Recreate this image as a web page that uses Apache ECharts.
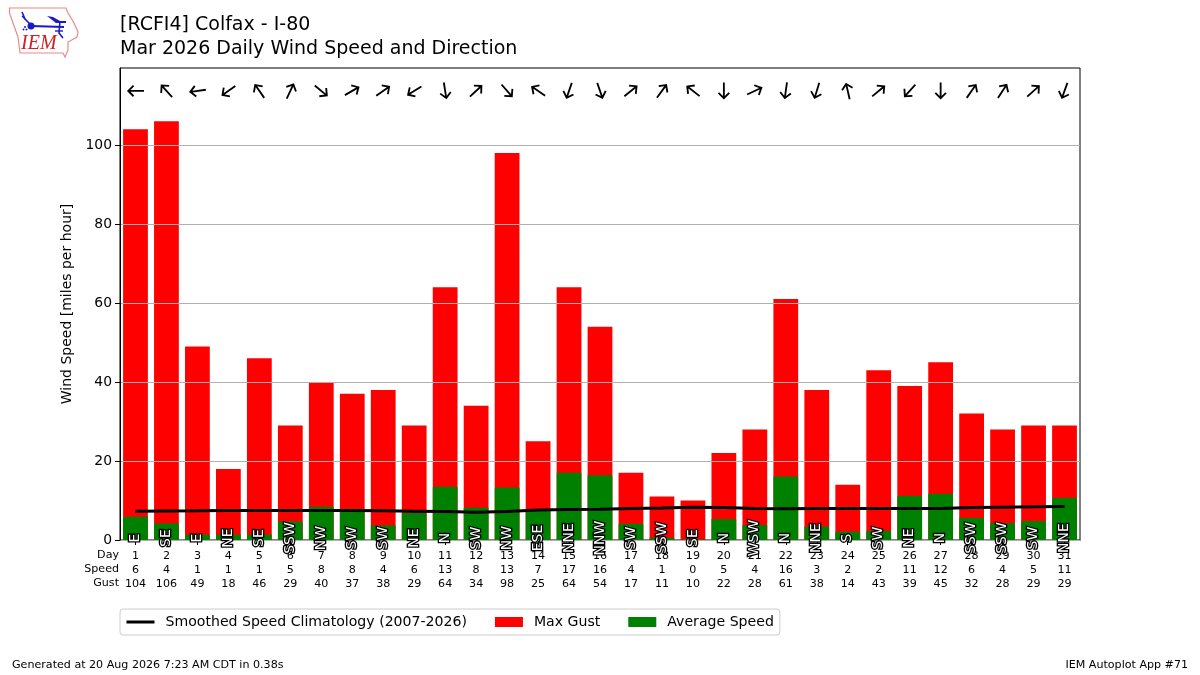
<!DOCTYPE html>
<html>
<head>
<meta charset="utf-8">
<style>html,body{margin:0;padding:0;background:#fff}#chart{width:1200px;height:675px}</style>
<script src="https://cdn.jsdelivr.net/npm/echarts@6/dist/echarts.min.js"></script>
</head>
<body>
<div id="chart"></div>
<script>
const days = [1,2,3,4,5,6,7,8,9,10,11,12,13,14,15,16,17,18,19,20,21,22,23,24,25,26,27,28,29,30,31];
const speedLabels = [6,4,1,1,1,5,8,8,4,6,13,8,13,7,17,16,4,1,0,5,4,16,3,2,2,11,12,6,4,5,11];
const gustValues = [104,106,49,18,46,29,40,37,38,29,64,34,98,25,64,54,17,11,10,22,28,61,38,14,43,39,45,32,28,29,29];
const avgSpeed = [5.9,4.2,1.35,1.35,1.35,4.7,8.4,7.9,3.7,6.8,13.5,8.2,13.3,7.4,17,16.4,4.1,0.6,0.2,5.3,3.8,16.1,3.4,2.1,2.3,11.2,11.7,5.6,4.3,4.8,10.7];
const climatology = [7.3,7.35,7.4,7.5,7.5,7.5,7.5,7.5,7.4,7.3,7.2,7.0,7.2,7.6,7.7,7.8,8.0,8.1,8.3,8.2,8.0,7.9,8.0,8.0,8.0,8.0,8.0,8.2,8.3,8.4,8.5];
const dirLabels = ['E','SE','E','NE','SE','SSW','NW','SW','SW','NE','N','SW','NW','ESE','NNE','NNW','SW','SSW','SE','N','WSW','N','NNE','S','SW','NE','N','SSW','SSW','SW','NNE'];
const arrowHeading = [270,318,262,235,325,25,130,60,55,238,171,47,139,304,199,161,51,36,308,180,65,188,197,347,50,222,180,35,33,48,200];
const yTicks = [0,20,40,60,80,100];
const arrowY = 113.7, dirLabelY = 0.5;
const FONT = '"DejaVu Sans"';
const arrowPath = 'path://M6 0L11.6 5.6L10.4 6.8L6.85 3.3L6.85 16L5.15 16L5.15 3.3L1.6 6.8L0.4 5.6Z';

const chart = echarts.init(document.getElementById('chart'), null, {renderer:'canvas'});
chart.setOption({
  animation:false,
  backgroundColor:'#fff',
  textStyle:{fontFamily:FONT,color:'#000'},
  title:[
    {text:'[RCFI4] Colfax - I-80',left:120,top:16,padding:0,textStyle:{fontFamily:FONT,fontSize:19,fontWeight:'normal',color:'#000'}},
    {text:'Mar 2026 Daily Wind Speed and Direction',left:120,top:40,padding:0,textStyle:{fontFamily:FONT,fontSize:19,fontWeight:'normal',color:'#000'}}
  ],
  grid:{left:120,right:120,top:68,bottom:135,show:true,borderColor:'#000',borderWidth:1,backgroundColor:'#fff'},
  legend:{
    left:120,top:609,orient:'horizontal',
    data:[{name:'Smoothed Speed Climatology (2007-2026)',itemStyle:{color:'rgba(0,0,0,0)',borderWidth:0,opacity:0},lineStyle:{color:'#000',width:3}},{name:'Max Gust',icon:'rect'},{name:'Average Speed',icon:'rect'}],
    itemWidth:28,itemHeight:10,itemGap:28,
    padding:[6,6,6,5],
    borderColor:'#ccc',borderWidth:1,borderRadius:3,backgroundColor:'#fff',
    selectedMode:false,
    textStyle:{fontFamily:FONT,fontSize:14.1,color:'#000',padding:[0,0,0,6]}
  },
  xAxis:{
    type:'category',data:days,boundaryGap:true,
    axisLine:{show:true,onZero:false,lineStyle:{color:'#000',width:1}},
    axisTick:{show:true,alignWithLabel:true,length:5,lineStyle:{color:'#000'}},
    splitLine:{show:false},
    axisLabel:{
      interval:0,margin:9,fontFamily:FONT,fontSize:11.1,lineHeight:14,color:'#000',
      formatter:(v,i)=>`${days[i]}\n${speedLabels[i]}\n${gustValues[i]}`
    }
  },
  yAxis:{
    type:'value',min:0,max:119.5,z:3,
    name:'Wind Speed [miles per hour]',nameLocation:'middle',nameGap:39,
    nameTextStyle:{fontFamily:FONT,fontSize:14,color:'#000'},
    axisLine:{show:true,lineStyle:{color:'#000',width:1}},
    axisTick:{show:true,length:5,lineStyle:{color:'#000'},customValues:yTicks},
    axisLabel:{fontFamily:FONT,fontSize:13.9,color:'#000',margin:8,customValues:yTicks},
    splitLine:{show:true,lineStyle:{color:'#b0b0b0',width:1}}
  },
  series:[
    {name:'Max Gust',type:'bar',data:gustValues,barWidth:'80%',barGap:'-100%',z:2,itemStyle:{color:'#ff0000'}},
    {name:'Average Speed',type:'bar',data:avgSpeed,barWidth:'80%',barGap:'-100%',z:2,itemStyle:{color:'#008000'}},
    {name:'Smoothed Speed Climatology (2007-2026)',type:'line',data:climatology,symbol:'none',smooth:false,z:5,
      lineStyle:{color:'#000',width:3},itemStyle:{color:'#000'}},
    {name:'dirs',type:'custom',z:10,silent:true,clip:false,
      data:dirLabels.map((d,i)=>[i,dirLabelY]),
      renderItem:(params,api)=>{
        const p=api.coord([api.value(0),api.value(1)]);
        return {type:'text',x:p[0],y:p[1],rotation:Math.PI/2,z2:100,
          style:{text:dirLabels[params.dataIndex],fontFamily:'DejaVu Sans',fontSize:14,
            fill:'#fff',stroke:'#000',lineWidth:2.6,strokeFirst:true,align:'center',verticalAlign:'middle'}};
      }},
    {name:'arrows',type:'scatter',z:10,silent:true,symbol:arrowPath,symbolSize:[12,17],
      itemStyle:{color:'#000',opacity:1},
      data:arrowHeading.map((h,i)=>({value:[i,arrowY],symbolRotate:-h}))}
  ],
  graphic:[
    {type:'polygon',z:20,shape:{points:[[9.5,8],[66,8],[68,13],[74,23],[78,32],[77,37],[68,42],[68,50],[65,57],[63,53],[20,53],[18,37],[13,23],[9.5,13]]},
      style:{fill:'#fff',stroke:'#e88a8a',lineWidth:1.2}},
    {type:'polyline',z:21,shape:{points:[[31,26],[64,27]]},style:{stroke:'#1a1acc',lineWidth:2,fill:null}},
    {type:'circle',z:21,shape:{cx:31,cy:26,r:3.5},style:{fill:'#1a1acc'}},
    {type:'polyline',z:21,shape:{points:[[31,25],[25,19],[22,12]]},style:{stroke:'#1a1acc',lineWidth:1.6,fill:null}},
    {type:'polyline',z:21,shape:{points:[[25,19],[22,16]]},style:{stroke:'#1a1acc',lineWidth:1.2,fill:null}},
    {type:'polygon',z:21,shape:{points:[[47,16],[53,17],[60,21],[66,21],[66,23],[56,23]]},style:{fill:'#1a1acc'}},
    {type:'polyline',z:21,shape:{points:[[60,21],[59,33],[63,38]]},style:{stroke:'#1a1acc',lineWidth:1.6,fill:null}},
    {type:'polyline',z:21,shape:{points:[[55,31],[63,31]]},style:{stroke:'#1a1acc',lineWidth:1.4,fill:null}},
    {type:'circle',z:21,shape:{cx:25,cy:27,r:1},style:{fill:'#1a1acc'}},
    {type:'circle',z:21,shape:{cx:23.5,cy:29.5,r:1},style:{fill:'#1a1acc'}},
    {type:'circle',z:21,shape:{cx:26.5,cy:29.5,r:1},style:{fill:'#1a1acc'}},
    {type:'text',z:21,x:21,y:34,style:{text:'IEM',fontFamily:'"Liberation Serif"',fontStyle:'italic',fontSize:20,fill:'#cc2222'}},
    {type:'text',z:21,x:119,y:550,style:{text:'Day',fontFamily:FONT,fontSize:11.1,fill:'#000',align:'right'}},
    {type:'text',z:21,x:119,y:564,style:{text:'Speed',fontFamily:FONT,fontSize:11.1,fill:'#000',align:'right'}},
    {type:'text',z:21,x:119,y:578,style:{text:'Gust',fontFamily:FONT,fontSize:11.1,fill:'#000',align:'right'}},
    {type:'text',z:21,x:12,y:660,style:{text:'Generated at 20 Aug 2026 7:23 AM CDT in 0.38s',fontFamily:FONT,fontSize:11.1,fill:'#000'}},
    {type:'text',z:21,x:1188,y:660,style:{text:'IEM Autoplot App #71',fontFamily:FONT,fontSize:11.1,fill:'#000',align:'right'}}
  ]
});
</script>
</body>
</html>
